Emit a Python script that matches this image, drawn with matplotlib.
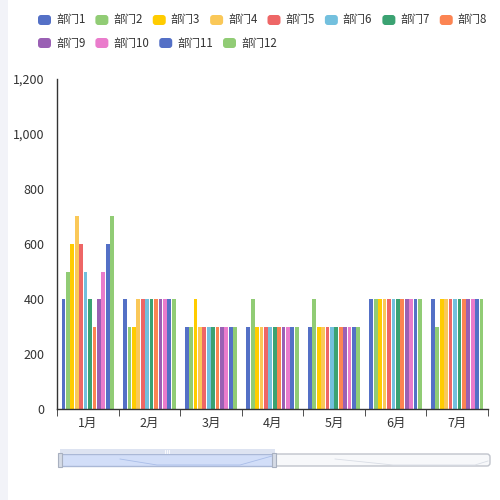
import numpy as np
import matplotlib
matplotlib.use("Agg")
import matplotlib.pyplot as plt
from matplotlib.patches import FancyBboxPatch, Rectangle
from matplotlib.ticker import FuncFormatter

plt.rcParams['font.family'] = ['Noto Sans CJK SC', 'DejaVu Sans']

# ------------------------------------------------------------------
# data
# ------------------------------------------------------------------
months = ['1月', '2月', '3月', '4月', '5月', '6月', '7月']
depts = ['部门1', '部门2', '部门3', '部门4', '部门5', '部门6',
         '部门7', '部门8', '部门9', '部门10', '部门11', '部门12']
colors = ['#5470c6', '#91cc75', '#ffcc00', '#fac858', '#ee6666', '#73c0de',
          '#3ba272', '#fc8452', '#9a60b4', '#ea7ccc', '#5470c6', '#91cc75']

dept1 = [400, 400, 300, 300, 300, 400, 400]
dept2 = [500, 300, 300, 400, 400, 400, 300]
dept3 = [600, 300, 400, 300, 300, 400, 400]
dept4 = [700, 400, 300, 300, 300, 400, 400]
dept5 = [600, 400, 300, 300, 300, 400, 400]
dept6 = [500, 400, 300, 300, 300, 400, 400]
dept7 = [400, 400, 300, 300, 300, 400, 400]
dept8 = [300, 400, 300, 300, 300, 400, 400]
dept9 = [400, 400, 300, 300, 300, 400, 400]
dept10 = [500, 400, 300, 300, 300, 400, 400]
dept11 = [600, 400, 300, 300, 300, 400, 400]
dept12 = [700, 400, 300, 300, 300, 400, 400]
series = [dept1, dept2, dept3, dept4, dept5, dept6,
          dept7, dept8, dept9, dept10, dept11, dept12]

W, H = 500, 500
fig = plt.figure(figsize=(5, 5), dpi=100)
fig.patch.set_facecolor('white')

# light page strip on the left
fig.patches.append(Rectangle((0, 0), 8 / W, 1, transform=fig.transFigure,
                             facecolor='#f2f3f8', edgecolor='none', zorder=0))

# ------------------------------------------------------------------
# bars
# ------------------------------------------------------------------
ax = fig.add_axes([57 / W, 1 - 409 / H, (488 - 57) / W, (409 - 79) / H])
x = np.arange(len(months))
n = len(series)
slot = 0.86 / n
for i, (vals, c) in enumerate(zip(series, colors)):
    off = (i - (n - 1) / 2) * slot
    ax.bar(x + off, vals, width=slot * 0.85, color=c, edgecolor='none')

ax.set_xlim(-0.5, len(months) - 0.5)
ax.set_ylim(0, 1200)
ax.set_yticks(np.arange(0, 1201, 200))
ax.yaxis.set_major_formatter(FuncFormatter(lambda v, p: f"{int(v):,}"))
ax.set_xticks(x)
ax.set_xticklabels(months)
ax.set_xticks(np.arange(-0.5, len(months), 1), minor=True)

for s in ['top', 'right']:
    ax.spines[s].set_visible(False)
ax.spines['left'].set_color('#333333')
ax.spines['bottom'].set_color('#333333')
ax.spines['left'].set_linewidth(1.0)
ax.spines['bottom'].set_linewidth(1.0)
ax.tick_params(axis='y', length=0, pad=9, labelsize=9, labelcolor='#333333')
ax.tick_params(axis='x', which='major', length=0, pad=6, labelsize=9,
               labelcolor='#333333')
ax.tick_params(axis='x', which='minor', length=5, color='#333333')

# ------------------------------------------------------------------
# legend (two rows, echarts style)
# ------------------------------------------------------------------
ov = fig.add_axes([0, 0, 1, 1], zorder=5)
ov.set_xlim(0, W)
ov.set_ylim(H, 0)
ov.axis('off')
ov.patch.set_alpha(0)

fig.canvas.draw()
rend = fig.canvas.get_renderer()
rows = [depts[:8], depts[8:]]
row_y = [20, 43]
k = 0
for r, names in enumerate(rows):
    cx = 38
    for name in names:
        ov.add_patch(FancyBboxPatch((cx, row_y[r] - 5), 13, 10,
                                    boxstyle="round,pad=0,rounding_size=3",
                                    facecolor=colors[k], edgecolor='none'))
        t = ov.text(cx + 18, row_y[r], name, fontsize=8.3, color='#333333',
                    va='center', ha='left')
        bb = t.get_window_extent(renderer=rend)
        cx += 18 + bb.width + 10
        k += 1

# ------------------------------------------------------------------
# data zoom slider
# ------------------------------------------------------------------
ov.add_patch(FancyBboxPatch((60, 454), 430, 12,
                            boxstyle="round,pad=0,rounding_size=3",
                            facecolor='#f7f8fa', edgecolor='#c0c4cc', lw=1))
ov.add_patch(Rectangle((60, 454), 214, 12, facecolor='#d2def8',
                       edgecolor='#aab8d6', lw=1))
ov.add_patch(Rectangle((60, 449), 215, 5, facecolor='#dde3f1',
                       edgecolor='none'))
ov.plot([120, 157, 240, 272], [459, 465, 465, 456], color='#a9bde8', lw=0.6)
ov.plot([335, 393, 475, 488], [459, 465, 465, 461], color='#d9dde5', lw=0.6)
for hx in [60, 274]:
    ov.add_patch(Rectangle((hx - 2, 453), 4, 14, facecolor='#d5dbe6',
                           edgecolor='#a8b0c0', lw=0.8))
for gx in [165, 167, 169]:
    ov.plot([gx, gx], [450, 453], color='white', lw=0.6)

fig.savefig('out.png', dpi=100)
